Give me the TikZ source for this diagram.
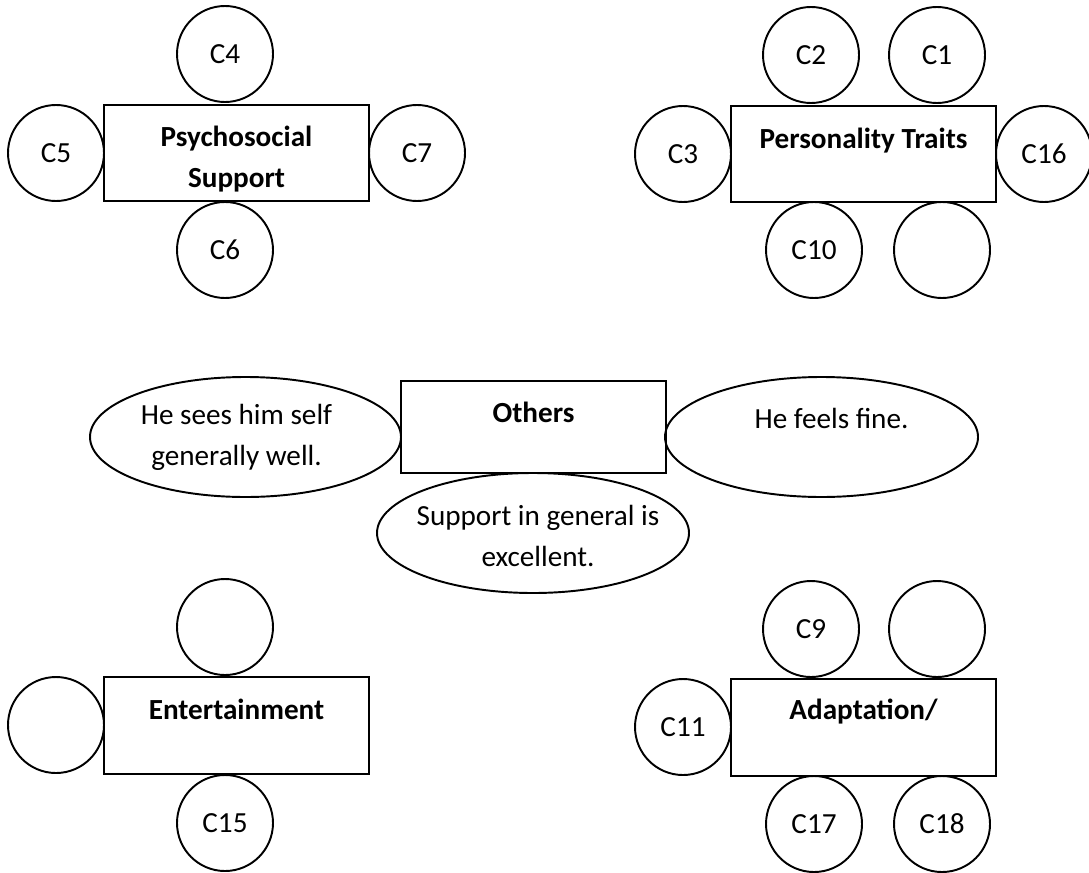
\documentclass[tikz,border=0pt]{standalone}
\usepackage{fontspec}
\setmainfont{Carlito}
\usetikzlibrary{shapes.geometric}

\begin{document}
\begin{tikzpicture}[font=\fontsize{8.3}{11.7}\selectfont,
  cat/.style={draw, line width=0.8pt, minimum width=2.65cm, minimum height=0.96cm, inner sep=0pt},
  catlab/.style={anchor=north, align=center, inner sep=0pt, font=\fontsize{8.3}{11.7}\selectfont\bfseries},
  item/.style={draw, circle, line width=0.55pt, minimum size=0.96cm, inner sep=0pt},
  bubble/.style={draw, ellipse, line width=0.55pt, minimum width=3.12cm, minimum height=1.2cm, inner sep=0pt},
  bubtxt/.style={align=center, inner sep=0pt}]
  \useasboundingbox (0,0) rectangle (10.89,-8.72);

  \node[cat] (PS) at (2.365,-1.53) {};
  \node[catlab] (PSt) at ([yshift=2.8mm]PS.center) {Psychosocial\\Support};
  \node[item] (c4) at (2.25,-0.54) {C4};
  \node[item] (c5) at (0.56,-1.53) {C5};
  \node[item] (c7) at (4.17,-1.53) {C7};
  \node[item] (c6) at (2.25,-2.50) {C6};

  \node[cat] (PT) at (8.635,-1.54) {};
  \node[catlab] (PTt) at ([yshift=2.7mm]PT.center) {Personality Traits};
  \node[item] (c2) at (8.11,-0.55) {C2};
  \node[item] (c1) at (9.37,-0.55) {C1};
  \node[item] (c3) at (6.83,-1.54) {C3};
  \node[item] (c16) at (10.44,-1.54) {C16};
  \node[item] (c10) at (8.14,-2.50) {C10};
  \node[item] (PTx) at (9.42,-2.50) {};

  \node[cat, minimum height=0.92cm] (OT) at (5.335,-4.27) {};
  \node[catlab] (OTt) at ([yshift=2.6mm]OT.center) {Others};
  \node[bubble, minimum width=3.11cm] (E1) at (2.455,-4.37) {};
  \node[bubtxt] (E1t) at ([xshift=-0.9mm]E1.center) {He sees him self\\generally well.};
  \node[bubble, minimum width=3.13cm] (E2) at (8.215,-4.37) {};
  \node[bubtxt] (E2t) at ([xshift=1mm, yshift=1.9mm]E2.center) {He feels fine.};
  \node[bubble] (E3) at (5.33,-5.33) {};
  \node[bubtxt] (E3t) at ([xshift=0.5mm, yshift=-0.3mm]E3.center) {Support in general is\\excellent.};

  \node[cat, minimum height=0.97cm] (EN) at (2.365,-7.255) {};
  \node[catlab] (ENt) at ([yshift=2.7mm]EN.center) {Entertainment};
  \node[item] (ENa) at (2.25,-6.27) {};
  \node[item] (ENb) at (0.56,-7.25) {};
  \node[item] (c15) at (2.25,-8.23) {C15};

  \node[cat, minimum height=0.97cm] (AD) at (8.635,-7.275) {};
  \node[catlab] (ADt) at ([yshift=2.9mm]AD.center) {Adaptation/};
  \node[item] (c9) at (8.11,-6.29) {C9};
  \node[item] (ADa) at (9.37,-6.29) {};
  \node[item] (c11) at (6.83,-7.27) {C11};
  \node[item] (c17) at (8.14,-8.24) {C17};
  \node[item] (c18) at (9.42,-8.24) {C18};
\end{tikzpicture}
\end{document}
